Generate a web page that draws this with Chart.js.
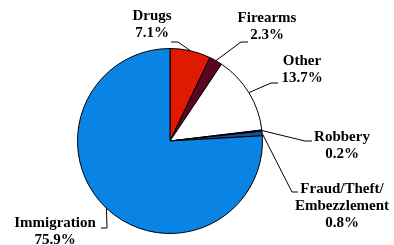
<!DOCTYPE html>
<html>
<head>
<meta charset="utf-8">
<script src="https://cdn.jsdelivr.net/npm/chart.js@4"></script>
<style>
  html, body { margin: 0; padding: 0; background: #fff; }
  #wrap { width: 394px; height: 245px; }
</style>
</head>
<body>
<div id="wrap"><canvas id="chart"></canvas></div>
<script>
// offense categories, clockwise from 12 o'clock
const categories = ['Drugs', 'Firearms', 'Other', 'Robbery', 'Fraud/Theft/Embezzlement', 'Immigration'];
const shares = [7.1, 2.3, 13.7, 0.2, 0.8, 75.9];
const labelLines = [
  ['Drugs', '7.1%'],
  ['Firearms', '2.3%'],
  ['Other', '13.7%'],
  ['Robbery', '0.2%'],
  ['Fraud/Theft/', 'Embezzlement', '0.8%'],
  ['Immigration', '75.9%']
];
const sliceColors = ['#e01a00', '#5c0426', '#ffffff', '#0a1a33', '#1d4f8f', '#0a84e4'];

// where each label sits and where its leader bends (layout only)
const labelPlaces = [
  { x: 152, y: 16, elbow: [178, 42], end: [171, 42] },
  { x: 267, y: 18, elbow: [241, 42], end: [248, 42] },
  { x: 302, y: 61, elbow: [271, 83], end: [278, 83] },
  { x: 342, y: 137, elbow: [305, 141], end: [312, 141] },
  { x: 342, y: 189, elbow: [292, 192], end: [298, 192] },
  { x: 55, y: 223, elbow: [107, 228], end: [101, 228] }
];

const leaderLabels = {
  id: 'leaderLabels',
  afterDatasetsDraw(chart) {
    const ctx = chart.ctx;
    const arcs = chart.getDatasetMeta(0).data;
    ctx.save();
    ctx.strokeStyle = '#000';
    ctx.lineWidth = 1;
    ctx.fillStyle = '#000';
    ctx.font = 'bold 15px "Liberation Serif", "Times New Roman", serif';
    ctx.textAlign = 'center';
    ctx.textBaseline = 'middle';
    arcs.forEach((arc, i) => {
      const p = labelPlaces[i];
      const mid = (arc.startAngle + arc.endAngle) / 2;
      const ex = arc.x + Math.cos(mid) * arc.outerRadius;
      const ey = arc.y + Math.sin(mid) * arc.outerRadius;
      ctx.beginPath();
      ctx.moveTo(ex, ey);
      ctx.lineTo(p.elbow[0], p.elbow[1]);
      ctx.lineTo(p.end[0], p.end[1]);
      ctx.stroke();
      labelLines[i].forEach((t, k) => {
        ctx.fillText(t, p.x, p.y + k * 17);
      });
    });
    ctx.restore();
  }
};

new Chart(document.getElementById('chart'), {
  type: 'pie',
  data: {
    labels: categories,
    datasets: [{
      data: shares,
      backgroundColor: sliceColors,
      borderColor: '#000',
      borderWidth: 1
    }]
  },
  options: {
    responsive: true,
    maintainAspectRatio: false,
    animation: false,
    layout: { padding: { left: 77, right: 131, top: 48, bottom: 11 } },
    plugins: {
      legend: { display: false },
      tooltip: { enabled: false }
    }
  },
  plugins: [leaderLabels]
});
</script>
</body>
</html>
